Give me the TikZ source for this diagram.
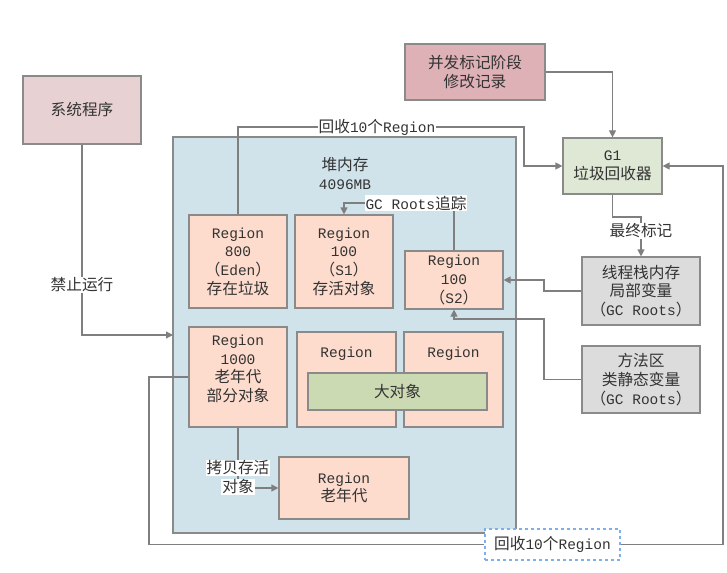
\documentclass[tikz,border=0pt]{standalone}
\usepackage{fontspec}
\setmainfont{Noto Sans CJK SC}[Scale=1.08]
\newfontfamily\latmono{Liberation Mono}
\newcommand\M[1]{{\latmono #1}}
\usetikzlibrary{arrows.meta,shadows}
\definecolor{bordercol}{HTML}{8A8A8A}
\definecolor{linecol}{HTML}{7F7F7F}
\definecolor{textcol}{HTML}{333333}
\definecolor{pinkA}{HTML}{E8D1D3}
\definecolor{pinkB}{HTML}{DDB1B5}
\definecolor{greenA}{HTML}{DEE8D5}
\definecolor{greenB}{HTML}{CCDAB3}
\definecolor{heapcol}{HTML}{D0E2EA}
\definecolor{regcol}{HTML}{FDDCCD}
\definecolor{graycol}{HTML}{DCDCDC}
\definecolor{dashcol}{HTML}{7FAEE8}
\newcommand\fs{\fontsize{14.5}{18.7}\selectfont}
\tikzset{
  box/.style={draw=bordercol, line width=1.2pt, inner sep=0pt, align=center,
    text=textcol, font=\fs, rectangle,
    drop shadow={shadow xshift=1.2pt, shadow yshift=-1.2pt, opacity=0.25, fill=black}},
  txt/.style={inner sep=0pt, align=center, text=textcol, font=\fs},
  wlab/.style={fill=white, inner sep=1pt, align=center, text=textcol, font=\fs},
  conn/.style={draw=linecol, line width=1.2pt},
  arr/.style={conn, -{Triangle[length=7pt,width=7pt]}},
}
\begin{document}
\begin{tikzpicture}[x=1pt,y=-1pt]
\useasboundingbox (0,0) rectangle (727,572);
% boxes
\node[box, fill=pinkA, minimum width=118pt, minimum height=68pt] (sys) at (82,110) {系统程序};
\node[box, fill=pinkB, minimum width=140pt, minimum height=56pt] (conc) at (475,72) {并发标记阶段\\修改记录};
\node[box, fill=greenA, minimum width=99pt, minimum height=56pt] (g1) at (612.5,166) {\M{G1}\\垃圾回收器};
\node[box, fill=heapcol, minimum width=343pt, minimum height=396pt] (heap) at (344.5,335) {};
\node[txt] (heaptitle) at (345,173.5) {堆内存\\\M{4096MB}};
\node[box, fill=regcol, minimum width=98pt, minimum height=93pt] (r800) at (238,261.5) {\M{Region}\\\M{800}\\（\M{Eden}）\\存在垃圾};
\node[box, fill=regcol, minimum width=98pt, minimum height=93pt] (s1) at (344,261.5) {\M{Region}\\\M{100}\\（\M{S1}）\\存活对象};
\node[box, fill=regcol, minimum width=98pt, minimum height=58pt] (s2) at (454,280) {\M{Region}\\\M{100}\\（\M{S2}）};
\node[box, fill=regcol, minimum width=98pt, minimum height=100pt] (r1000) at (238,377) {};
\node[txt] (r1000lab) at (238,369) {\M{Region}\\\M{1000}\\老年代\\部分对象};
\node[box, fill=regcol, minimum width=99pt, minimum height=95pt] (rm) at (346.5,379.5) {};
\node[txt] (rmlab) at (346.5,354) {\M{Region}};
\node[box, fill=regcol, minimum width=99pt, minimum height=95pt] (rr) at (453.5,379.5) {};
\node[txt] (rrlab) at (453.5,354) {\M{Region}};
\node[box, fill=greenB, minimum width=179pt, minimum height=37pt] (big) at (397.5,391.5) {大对象};
\node[box, fill=regcol, minimum width=130pt, minimum height=62pt] (rold) at (344,488) {\M{Region}\\老年代};
\node[box, fill=graycol, minimum width=118pt, minimum height=68pt] (thread) at (641,291) {线程栈内存\\局部变量\\（\M{GC Roots}）};
\node[box, fill=graycol, minimum width=118pt, minimum height=67pt] (method) at (641,379.5) {方法区\\类静态变量\\（\M{GC Roots}）};
\node[draw=dashcol, dashed, line width=1.2pt, fill=white, inner sep=0pt, text=textcol, font=\fs,
  minimum width=135pt, minimum height=31pt] (dash) at (552.5,544.5) {回收\M{10}个\M{Region}};
% coordinates
\coordinate (c1) at (173,335);
\coordinate (k1) at (524,127);
\coordinate (k2) at (641,217);
\coordinate (k3) at (544,280);
\coordinate (k4) at (544,319);
\coordinate (k5) at (454,319);
\coordinate (k7) at (344,203);
\coordinate (k8) at (149,544.5);
\coordinate (k9) at (723,166);
\coordinate (k10) at (238,488);
% connectors
\draw[arr] (sys.south) |- (c1);
\draw[arr] (r800.north) |- (k1) |- (g1.west);
\draw[arr] (conc.east) -| (g1.north);
\draw[arr] (g1.south) |- (k2) -- (thread.north);
\draw[arr] (thread.west) -| (k3) -- (s2.east);
\draw[arr] (method.west) -| (k4) -- (k5) -- (s2.south);
\draw[arr] (s2.north) |- (k7) -- (s1.north);
\draw[conn] (r1000.west) -| (k8) -- (dash.west);
\draw[arr] (dash.east) -| (k9) -- (g1.east);
\draw[arr] (r1000.south) -- (k10) -- (rold.west);
% labels
\node[wlab] (l1) at (82,285) {禁止运行};
\node[wlab] (l2) at (377,127) {回收\M{10}个\M{Region}};
\node[wlab] (l3) at (641,231) {最终标记};
\node[wlab] (l4) at (416,203) {\M{GC Roots}追踪};
\node[wlab] (l5) at (238,468) {拷贝存活};
\node[wlab] (l6) at (238,487) {对象};
\end{tikzpicture}
\end{document}
